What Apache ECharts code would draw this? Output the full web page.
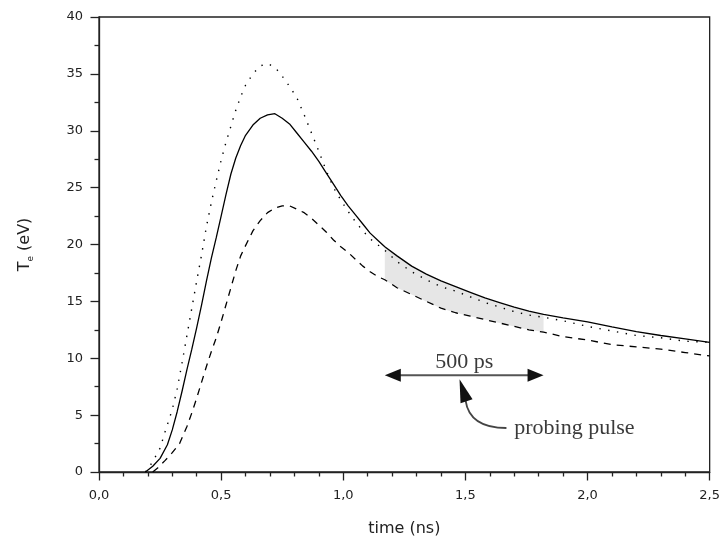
<!DOCTYPE html>
<html>
<head>
<meta charset="utf-8">
<script src="https://cdn.jsdelivr.net/npm/echarts@6/dist/echarts.min.js"></script>
<style>
  html, body { margin: 0; padding: 0; background: #fff; }
  #chart { width: 723px; height: 545px; }
</style>
</head>
<body>
<div id="chart"></div>
<script>
// ---- Data ----
const solidTime = [0.19,0.22,0.25,0.28,0.30,0.32,0.34,0.36,0.38,0.40,0.42,0.44,0.46,0.48,0.50,0.52,0.54,0.56,0.58,0.60,0.63,0.66,0.69,0.72,0.75,0.78,0.81,0.84,0.87,0.90,0.93,0.96,0.99,1.02,1.05,1.08,1.11,1.14,1.17,1.22,1.28,1.34,1.40,1.46,1.52,1.58,1.64,1.70,1.76,1.82,1.90,2.00,2.10,2.20,2.30,2.40,2.50];
const solidTe   = [0,0.5,1.2,2.4,3.7,5.3,7.1,9.0,10.8,12.7,14.7,16.8,18.8,20.6,22.5,24.4,26.2,27.6,28.7,29.6,30.5,31.1,31.4,31.5,31.1,30.6,29.8,29.0,28.2,27.3,26.3,25.3,24.3,23.4,22.6,21.8,21.0,20.4,19.8,19.0,18.1,17.4,16.8,16.3,15.8,15.3,14.9,14.5,14.15,13.85,13.55,13.2,12.75,12.35,12.0,11.7,11.4];

const dottedTime = [0.19,0.22,0.25,0.27,0.30,0.32,0.34,0.36,0.38,0.40,0.42,0.44,0.46,0.48,0.50,0.52,0.54,0.56,0.58,0.60,0.63,0.66,0.69,0.72,0.75,0.78,0.81,0.84,0.87,0.90,0.93,0.96,0.99,1.02,1.05,1.08,1.11,1.14,1.17,1.22,1.28,1.34,1.40,1.46,1.52,1.58,1.64,1.70,1.76,1.82,1.90,2.00,2.10,2.20,2.30,2.40,2.50];
const dottedTe   = [0,0.9,2.1,3.5,5.5,7.3,9.6,12.0,14.4,16.8,19.1,21.6,23.7,25.6,27.4,29.0,30.4,31.8,33.0,34.0,35.0,35.7,35.9,35.6,34.8,33.9,32.9,31.4,29.8,28.2,26.5,25.0,23.9,22.9,22.0,21.2,20.5,20.0,19.5,18.5,17.6,16.9,16.3,15.9,15.4,14.9,14.5,14.1,13.8,13.6,13.3,12.8,12.4,12.0,11.8,11.5,11.4];

const dashedTime = [0.22,0.24,0.27,0.30,0.33,0.36,0.38,0.40,0.42,0.44,0.46,0.48,0.50,0.52,0.54,0.56,0.58,0.60,0.63,0.66,0.69,0.72,0.75,0.78,0.81,0.84,0.87,0.90,0.93,0.96,0.99,1.02,1.05,1.08,1.11,1.14,1.17,1.22,1.28,1.34,1.40,1.46,1.52,1.58,1.64,1.70,1.76,1.82,1.90,2.00,2.10,2.20,2.30,2.40,2.50];
const dashedTe   = [0,0.35,1.0,1.7,2.5,4.0,5.2,6.5,7.9,9.3,10.6,11.8,13.2,14.7,16.2,17.7,19.0,19.9,21.2,22.1,22.8,23.2,23.4,23.4,23.1,22.8,22.3,21.7,21.1,20.4,19.8,19.3,18.7,18.1,17.6,17.2,16.9,16.2,15.6,15.0,14.4,14.0,13.7,13.4,13.1,12.8,12.5,12.3,11.9,11.6,11.2,11.0,10.8,10.5,10.2];

const xTicks = [0, 0.5, 1.0, 1.5, 2.0, 2.5];
const yTicks = [0, 5, 10, 15, 20, 25, 30, 35, 40];

// shaded probing window (ns) and annotations (data coordinates)
const shadeWindow = [1.17, 1.82];
const spanArrowX = [1.17, 1.82];
const spanArrowY = [8.5];
const spanLabel = '500 ps';
const pulseTip = [1.476, 8.15];
const pulseTail = [1.668, 3.87];
const pulseLabelAt = [1.70, 3.87];
const pulseLabel = 'probing pulse';

// ---- Build ----
const zip = (a, b) => a.map((t, i) => [t, b[i]]);
const solidData = zip(solidTime, solidTe);
const dottedData = zip(dottedTime, dottedTe);
const dashedData = zip(dashedTime, dashedTe);

const chart = echarts.init(document.getElementById('chart'), null, { renderer: 'canvas' });

const axisFont = 'DejaVu Sans';

const option = {
  animation: false,
  backgroundColor: '#ffffff',
  grid: {
    left: 99, right: 13, top: 17, bottom: 73,
    show: true, borderColor: '#222', borderWidth: 1.3, backgroundColor: 'transparent'
  },
  xAxis: {
    type: 'value',
    min: xTicks[0], max: xTicks[xTicks.length - 1], interval: 0.5,
    name: 'time (ns)', nameLocation: 'middle', nameGap: 49,
    nameTextStyle: { fontFamily: axisFont, fontSize: 16, color: '#222' },
    axisLine: { show: true, onZero: false, lineStyle: { color: '#222', width: 1.3 } },
    axisTick: { show: true, inside: false, length: 8.5, lineStyle: { color: '#222', width: 1.3 } },
    minorTick: { show: true, splitNumber: 5, length: 4.5, lineStyle: { color: '#222', width: 1.3 } },
    splitLine: { show: false },
    axisLabel: {
      margin: 17, fontFamily: axisFont, fontSize: 13, color: '#222',
      formatter: v => v.toFixed(1).replace('.', ',')
    }
  },
  yAxis: {
    type: 'value',
    min: yTicks[0], max: yTicks[yTicks.length - 1], interval: 5,
    name: '{m|T}{s|e}{m| (eV)}', nameLocation: 'middle', nameGap: 64,
    nameTextStyle: {
      rich: {
        m: { fontFamily: axisFont, fontSize: 16, color: '#222', lineHeight: 20 },
        s: { fontFamily: axisFont, fontSize: 9, color: '#222', verticalAlign: 'bottom', lineHeight: 14 }
      }
    },
    axisLine: { show: true, onZero: false, lineStyle: { color: '#222', width: 1.3 } },
    axisTick: { show: true, inside: false, length: 8.5, lineStyle: { color: '#222', width: 1.3 } },
    minorTick: { show: true, splitNumber: 2, length: 4.5, lineStyle: { color: '#222', width: 1.3 } },
    splitLine: { show: false },
    axisLabel: { margin: 16, fontFamily: axisFont, fontSize: 13, color: '#222' }
  },
  series: [
    {
      type: 'custom',
      name: 'window',
      silent: true,
      z: 1,
      data: [[shadeWindow[0], 0]],
      renderItem: function (params, api) {
        const inWin = t => t >= shadeWindow[0] - 1e-9 && t <= shadeWindow[1] + 1e-9;
        const top = solidData.filter(d => inWin(d[0])).map(d => api.coord(d));
        const bottom = dashedData.filter(d => inWin(d[0])).map(d => api.coord(d)).reverse();
        return {
          type: 'polygon',
          shape: { points: top.concat(bottom) },
          style: { fill: '#e6e6e6', stroke: null }
        };
      }
    },
    {
      type: 'line', name: 'solid', data: solidData, showSymbol: false, smooth: false, z: 3,
      lineStyle: { color: '#000', width: 1.3, type: 'solid' }
    },
    {
      type: 'line', name: 'dotted', data: dottedData, showSymbol: false, smooth: false, z: 3,
      lineStyle: { color: '#000', width: 1.4, type: [1.4, 7.5] }
    },
    {
      type: 'line', name: 'dashed', data: dashedData, showSymbol: false, smooth: false, z: 3,
      lineStyle: { color: '#000', width: 1.3, type: [7, 6] }
    },
    {
      type: 'custom',
      name: 'annotations',
      silent: true,
      z: 5,
      clip: false,
      data: [[spanArrowX[0], spanArrowY[0]]],
      renderItem: function (params, api) {
        const a = api.coord([spanArrowX[0], spanArrowY[0]]);
        const b = api.coord([spanArrowX[1], spanArrowY[0]]);
        const tip = api.coord(pulseTip);
        const tail = api.coord(pulseTail);
        const lab = api.coord(pulseLabelAt);
        const col = '#3a3a3a';
        const headL = 16, headW = 6.5;
        return {
          type: 'group',
          children: [
            { type: 'line', shape: { x1: a[0] + 10, y1: a[1], x2: b[0] - 10, y2: b[1] },
              style: { stroke: '#555', lineWidth: 2 } },
            { type: 'polygon', shape: { points: [[a[0], a[1]], [a[0] + headL, a[1] - headW], [a[0] + headL, a[1] + headW]] },
              style: { fill: '#111' } },
            { type: 'polygon', shape: { points: [[b[0], b[1]], [b[0] - headL, b[1] - headW], [b[0] - headL, b[1] + headW]] },
              style: { fill: '#111' } },
            { type: 'text', x: (a[0] + b[0]) / 2, y: a[1] - 13,
              style: { text: spanLabel, font: '22px "Liberation Serif"', fill: col, align: 'center', verticalAlign: 'middle' } },
            { type: 'bezierCurve',
              shape: { x1: tip[0] + 6, y1: tip[1] + 21, cpx1: tip[0] + 10, cpy1: tail[1], x2: tail[0], y2: tail[1] },
              style: { stroke: '#444', lineWidth: 1.8, fill: null } },
            { type: 'polygon', shape: { points: [[tip[0], tip[1]], [tip[0] + 1, tip[1] + 24], [tip[0] + 13, tip[1] + 20]] },
              style: { fill: '#111' } },
            { type: 'text', x: lab[0], y: lab[1],
              style: { text: pulseLabel, font: '22px "Liberation Serif"', fill: col, align: 'left', verticalAlign: 'middle' } }
          ]
        };
      }
    }
  ]
};

chart.setOption(option);
</script>
</body>
</html>
